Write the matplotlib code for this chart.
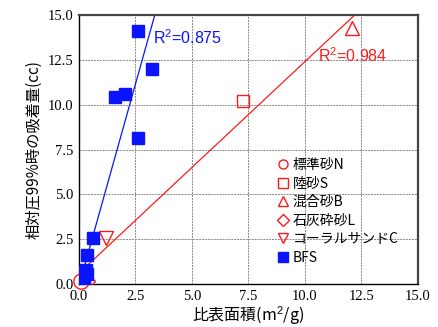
import matplotlib
matplotlib.use("Agg")
import matplotlib.pyplot as plt
import numpy as np

# series
n_x, n_y = [0.1], [0.15]            # 標準砂N
s_x, s_y = [7.26], [10.2]           # 陸砂S
b_x, b_y = [12.1], [14.3]           # 混合砂B
l_x, l_y = [0.5], [0.15]            # 石灰砕砂L
c_x, c_y = [1.2], [2.6]             # コーラルサンドC
bfs_x = [2.6, 3.22, 1.58, 2.05, 2.6, 0.62, 0.35, 0.3, 0.2, 0.15, 0.25, 0.1, 0.35]
bfs_y = [14.1, 12.0, 10.45, 10.6, 8.15, 2.6, 1.65, 0.8, 0.7, 0.5, 0.3, 0.35, 0.55]

# regression lines (slope, intercept, x range) and R2 labels
red_fit = (1.18, 0.6, 0.0, 12.2)
blue_fit = (4.5, -0.12, 0.1, 3.36)
red_r2 = "R$^2$=0.984"
blue_r2 = "R$^2$=0.875"

legend_labels = ["標準砂N", "陸砂S", "混合砂B", "石灰砕砂L", "コーラルサンドC", "BFS"]
ticks = [0.0, 2.5, 5.0, 7.5, 10.0, 12.5, 15.0]

# tick labels are serif in the original, everything else sans
plt.rcParams["font.family"] = ["Liberation Serif", "DejaVu Serif"]
plt.rcParams["mathtext.fontset"] = "custom"
plt.rcParams["mathtext.rm"] = "Liberation Sans"
JP = ["Noto Sans CJK JP", "DejaVu Sans"]
RED = "#ff1a1a"
BLUE = "#0a14ff"

fig = plt.figure(figsize=(4.38, 3.27), dpi=100)
ax = fig.add_axes([0.180, 0.131, 0.774, 0.823])

for k, (m, b0, x0, x1) in {"r": red_fit, "b": blue_fit}.items():
    xs = np.array([x0, x1])
    ax.plot(xs, m * xs + b0, color=RED if k == "r" else BLUE, lw=0.9, zorder=2)

mk = dict(ms=9, mfc="none", mew=1.0, ls="none", color=RED, zorder=3)
ax.plot(n_x, n_y, marker="o", label=legend_labels[0], clip_on=False, **{**mk, "ms": 11})
ax.plot(s_x, s_y, marker="s", label=legend_labels[1], **mk)
ax.plot(b_x, b_y, marker="^", label=legend_labels[2], **{**mk, "ms": 10})
ax.plot(l_x, l_y, marker="D", label=legend_labels[3], **{**mk, "ms": 5})
ax.plot(c_x, c_y, marker="v", label=legend_labels[4], **{**mk, "ms": 10})
ax.plot(bfs_x, bfs_y, marker="s", ms=9, ls="none", color=BLUE,
        label=legend_labels[5], zorder=4)

ax.text(10.6, 12.4, red_r2, color=RED, fontsize=11.5, family="Liberation Sans")
ax.text(3.3, 13.4, blue_r2, color=BLUE, fontsize=11.5, family="Liberation Sans")

ax.set_xlim(0, 15)
ax.set_ylim(0, 15)
ax.set_xticks(ticks)
ax.set_yticks(ticks)
ax.set_xticklabels([f"{t:.1f}" for t in ticks])
ax.set_yticklabels([f"{t:.1f}" for t in ticks])
ax.tick_params(length=0, pad=4, labelsize=10.5)
ax.grid(True, color="#888888", ls=(0, (2, 1)), lw=0.7)
ax.set_axisbelow(True)

for side in ["left", "bottom"]:
    ax.spines[side].set_linewidth(1.0)
for side in ["top", "right"]:
    ax.spines[side].set_color("#444444")
    ax.spines[side].set_linewidth(1.6)

ax.set_xlabel("比表面積(m$^2$/g)", family=JP, fontsize=11.5, labelpad=1)
ax.set_ylabel("相対圧99%時の吸着量(cc)", family=JP, fontsize=11, labelpad=4)

leg = ax.legend(loc="lower right", bbox_to_anchor=(0.98, 0.025), frameon=False,
                prop={"family": JP, "size": 10}, handlelength=0.7,
                handletextpad=0.35, labelspacing=0.33)
for h in leg.legend_handles:
    h.set_markersize(6.5)

fig.savefig("out.png", dpi=100)
